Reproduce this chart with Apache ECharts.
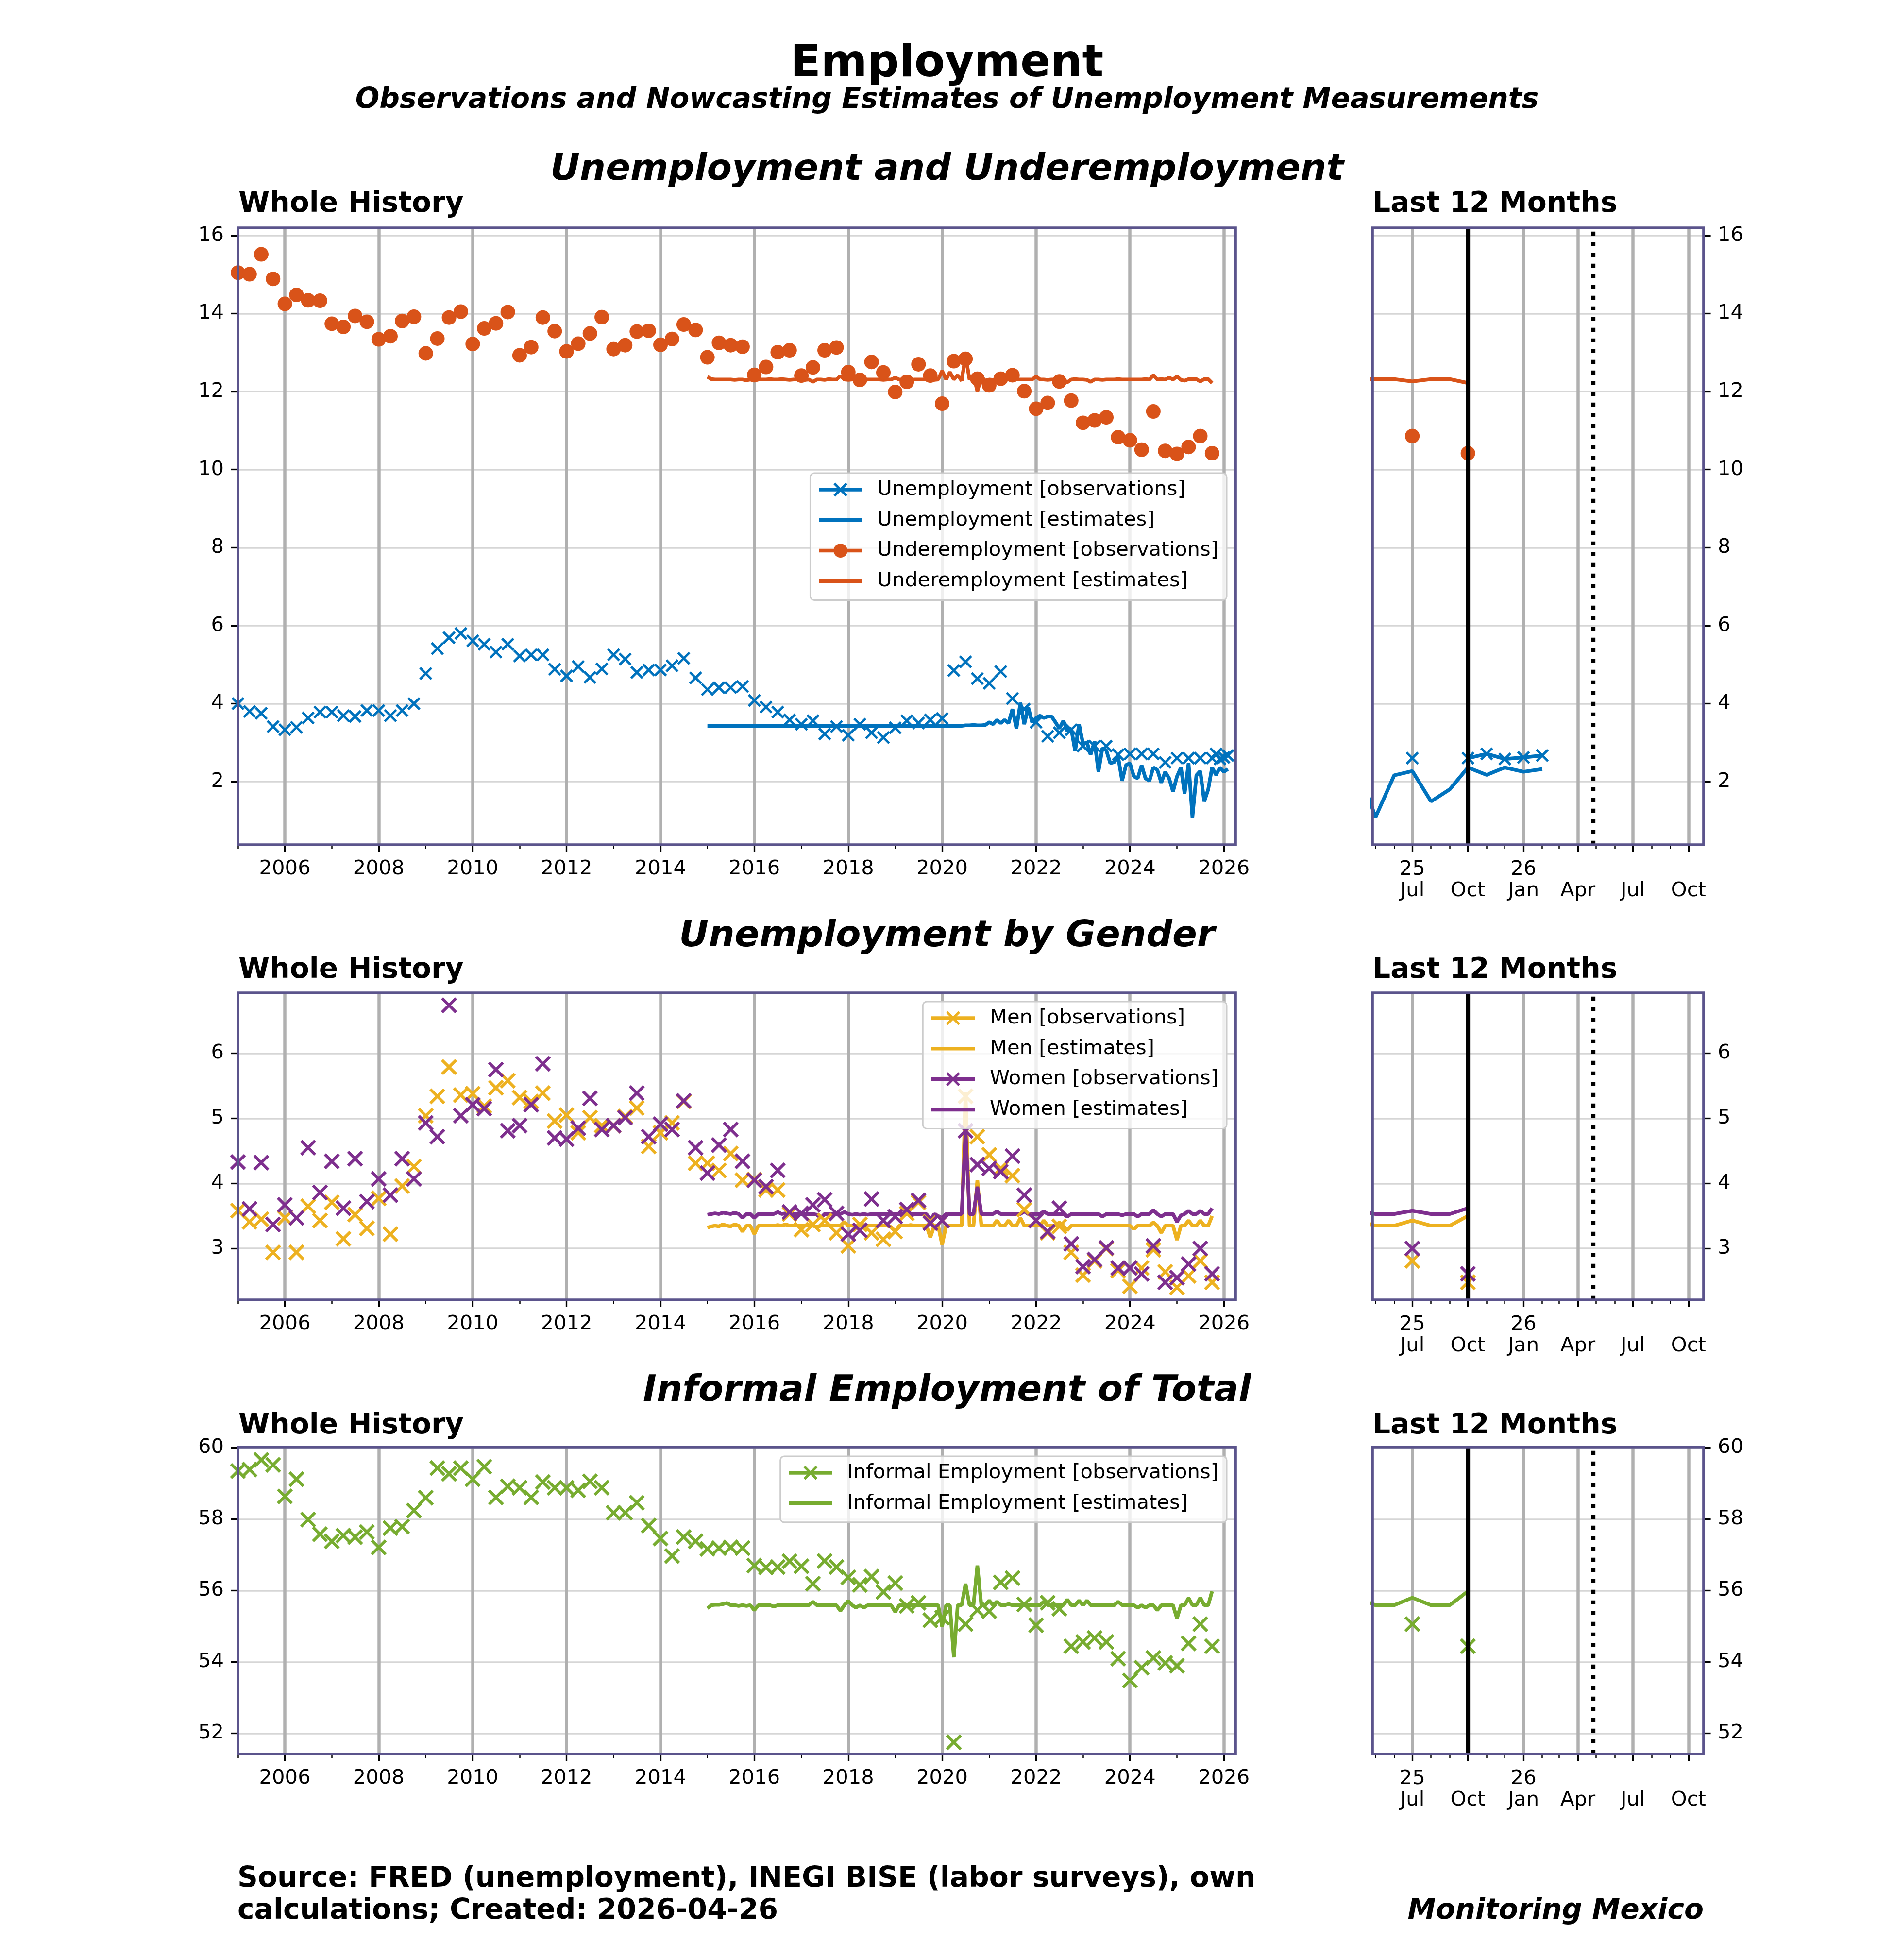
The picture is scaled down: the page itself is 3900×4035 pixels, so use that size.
<!DOCTYPE html>
<html><head><meta charset="utf-8">
<script src="https://cdn.jsdelivr.net/npm/echarts@6/dist/echarts.min.js"></script>
<style>html,body{margin:0;padding:0;background:#fff}#c{width:3900px;height:4035px}</style>
</head><body><div id="c"></div>
<script>
// ---------------- DATA ----------------
// Quarterly observations start Jan 2005 (Jan, Apr, Jul, Oct)
const unempObs = [
 4.00,3.80,3.75,3.41, 3.33,3.39,3.63,3.78, 3.78,3.69,3.67,3.82, 3.82,3.69,3.82,4.00,
 4.77,5.41,5.69,5.80, 5.61,5.52,5.32,5.52, 5.22,5.25,5.25,4.88, 4.71,4.95,4.67,4.89,
 5.25,5.14,4.80,4.86, 4.86,4.97,5.16,4.66, 4.36,4.41,4.41,4.44, 4.08,3.91,3.78,3.58,
 3.47,3.56,3.22,3.41, 3.19,3.47,3.25,3.13, 3.38,3.56,3.50,3.58, 3.62,4.85,5.07,4.64,
 4.52,4.82,4.13,3.86, 3.52,3.16,3.25,3.33, 2.91,2.91,2.91,2.69, 2.71,2.71,2.71,2.49,
 2.60,2.60,2.60];
// Monthly observations Oct 2025 .. Feb 2026
const unempObsTail = [2.60,2.71,2.58,2.62,2.67];
const underObs = [
 15.05,15.01,15.52,14.89, 14.25,14.48,14.34,14.33, 13.74,13.66,13.94,13.79, 13.34,13.42,13.81,13.92,
 12.98,13.36,13.90,14.05, 13.22,13.62,13.75,14.04, 12.93,13.14,13.90,13.55, 13.03,13.23,13.49,13.91,
 13.09,13.19,13.54,13.56, 13.20,13.35,13.72,13.58, 12.88,13.25,13.19,13.15, 12.43,12.63,13.01,13.06,
 12.41,12.62,13.06,13.13, 12.50,12.30,12.76,12.49, 11.99,12.25,12.70,12.41, 11.69,12.78,12.84,12.33,
 12.16,12.33,12.42,12.01, 11.56,11.71,12.26,11.77, 11.20,11.26,11.34,10.83, 10.75,10.51,11.49,10.48,
 10.40,10.58,10.86,10.42];
// Monthly estimates start Jan 2015
const unempEst = [
 3.43,3.43,3.43,3.43,3.43,3.43,3.43,3.43,3.43,3.43,3.43,3.43,
 3.43,3.43,3.43,3.43,3.43,3.43,3.43,3.43,3.43,3.43,3.43,3.43,
 3.43,3.43,3.43,3.43,3.43,3.43,3.43,3.43,3.43,3.43,3.43,3.43,
 3.43,3.43,3.43,3.43,3.43,3.43,3.43,3.43,3.43,3.43,3.43,3.43,
 3.43,3.43,3.43,3.43,3.43,3.43,3.43,3.43,3.43,3.43,3.43,3.43,
 3.43,3.43,3.43,3.43,3.43,3.43,3.44,3.44,3.45,3.44,3.44,3.45,
 3.52,3.47,3.58,3.50,3.58,3.50,3.86,3.36,4.02,3.47,3.90,3.52,
 3.63,3.69,3.63,3.67,3.67,3.52,3.36,3.56,3.30,3.36,2.78,3.47,
 2.97,3.00,2.69,3.03,2.25,2.86,2.80,2.47,2.50,2.64,2.02,2.42,
 2.47,2.13,2.08,2.42,2.08,2.02,2.36,2.30,1.97,2.25,2.08,1.74,
 2.13,2.36,1.69,2.47,1.08,2.16,2.27,1.49,1.80,2.36,2.17,2.36,
 2.25,2.32];
const underEst = [
 12.38,12.32,12.31,12.31,12.31,12.31,12.31,12.30,12.31,12.31,12.29,12.31,
 12.28,12.31,12.31,12.31,12.32,12.31,12.31,12.32,12.31,12.30,12.31,12.31,
 12.31,12.30,12.31,12.25,12.31,12.31,12.30,12.32,12.31,12.31,12.40,12.31,
 12.30,12.31,12.31,12.31,12.30,12.31,12.31,12.31,12.31,12.30,12.31,12.31,
 12.36,12.31,12.31,12.31,12.30,12.31,12.31,12.31,12.31,12.31,12.30,12.31,
 12.53,12.31,12.50,12.31,12.42,12.28,12.92,12.31,12.42,12.01,12.38,12.28,
 12.31,12.30,12.31,12.31,12.31,12.31,12.31,12.31,12.31,12.31,12.31,12.31,
 12.39,12.31,12.31,12.30,12.31,12.31,12.31,12.31,12.24,12.31,12.32,12.31,
 12.31,12.30,12.25,12.31,12.31,12.30,12.31,12.31,12.31,12.32,12.31,12.31,
 12.31,12.31,12.31,12.31,12.32,12.31,12.42,12.31,12.32,12.31,12.36,12.31,
 12.39,12.30,12.28,12.32,12.32,12.32,12.26,12.32,12.32,12.22];
const menObs = [
 3.58,3.41,3.45,2.94, 3.47,2.94,3.65,3.43, 3.71,3.15,3.52,3.31, 3.77,3.22,3.96,4.26,
 5.04,5.34,5.79,5.36, 5.38,5.19,5.47,5.58, 5.32,5.26,5.39,4.96, 5.05,4.78,5.01,4.89,
 4.89,5.03,5.16,4.57, 4.78,4.93,5.26,4.31, 4.31,4.20,4.46,4.05, 4.06,3.90,3.90,3.53,
 3.29,3.37,3.43,3.24, 3.04,3.37,3.24,3.14, 3.26,3.54,3.71,3.41, 3.43,null,5.34,4.72,
 4.44,4.23,4.12,3.60, 3.43,3.24,3.34,2.94, 2.59,2.81,3.00,2.66, 2.42,2.70,2.98,2.64,
 2.40,2.58,2.81,2.48];
const womenObs = [
 4.33,3.61,4.32,3.37, 3.67,3.47,4.55,3.86, 4.34,3.62,4.38,3.72, 4.07,3.82,4.38,4.07,
 4.93,4.72,6.74,5.04, 5.21,5.15,5.75,4.81, 4.89,5.21,5.84,4.70, 4.68,4.85,5.31,4.83,
 4.89,5.01,5.39,4.72, 4.91,4.83,5.27,4.55, 4.16,4.59,4.83,4.34, 4.05,3.95,4.20,3.56,
 3.54,3.67,3.75,3.54, 3.22,3.28,3.76,3.43, 3.49,3.60,3.74,3.39, 3.43,null,4.81,4.29,
 4.23,4.18,4.42,3.82, 3.43,3.26,3.62,3.07, 2.72,2.83,3.01,2.70, 2.70,2.61,3.04,2.48,
 2.55,2.76,3.00,2.61];
const menEst = [
 3.32,3.34,3.35,3.34,3.37,3.35,3.34,3.37,3.35,3.26,3.35,3.35,
 3.22,3.35,3.35,3.35,3.35,3.35,3.36,3.35,3.37,3.35,3.35,3.35,
 3.35,3.35,3.36,3.35,3.33,3.35,3.35,3.36,3.35,3.35,3.35,3.41,
 3.35,3.35,3.35,3.35,3.36,3.35,3.35,3.35,3.35,3.35,3.35,3.33,
 3.26,3.35,3.35,3.35,3.36,3.35,3.35,3.35,3.35,3.17,3.35,3.35,
 3.06,3.35,3.35,3.35,3.35,3.35,5.40,3.35,3.35,4.05,3.35,3.35,
 3.35,3.35,3.43,3.35,3.35,3.43,3.35,3.35,3.47,3.35,3.35,3.35,
 3.35,3.35,3.43,3.35,3.35,3.35,3.40,3.35,3.28,3.35,3.35,3.35,
 3.35,3.35,3.35,3.35,3.35,3.35,3.35,3.35,3.35,3.35,3.35,3.35,
 3.35,3.30,3.35,3.35,3.35,3.35,3.40,3.35,3.24,3.35,3.35,3.35,
 3.13,3.35,3.35,3.43,3.35,3.35,3.43,3.35,3.35,3.50];
const womenEst = [
 3.52,3.53,3.54,3.53,3.55,3.54,3.53,3.55,3.53,3.47,3.53,3.53,
 3.47,3.53,3.53,3.53,3.53,3.53,3.56,3.53,3.54,3.53,3.53,3.53,
 3.53,3.53,3.53,3.53,3.52,3.47,3.53,3.53,3.53,3.53,3.53,3.56,
 3.53,3.52,3.53,3.52,3.53,3.52,3.53,3.53,3.53,3.53,3.53,3.53,
 3.53,3.53,3.53,3.53,3.53,3.53,3.53,3.53,3.53,3.44,3.53,3.50,
 3.47,3.53,3.53,3.53,3.53,3.53,4.81,3.53,3.53,3.95,3.53,3.53,
 3.53,3.53,3.57,3.53,3.53,3.53,3.53,3.53,3.53,3.57,3.53,3.53,
 3.53,3.53,3.57,3.53,3.53,3.53,3.53,3.53,3.49,3.53,3.53,3.53,
 3.53,3.53,3.53,3.53,3.53,3.49,3.53,3.53,3.53,3.53,3.51,3.53,
 3.53,3.53,3.49,3.53,3.53,3.53,3.59,3.53,3.49,3.53,3.53,3.53,
 3.41,3.51,3.53,3.58,3.53,3.53,3.58,3.53,3.53,3.62];
const informalObs = [
 59.35,59.39,59.66,59.52, 58.64,59.12,57.99,57.58, 57.38,57.54,57.50,57.64, 57.21,57.75,57.79,58.24,
 58.60,59.43,59.27,59.43, 59.12,59.47,58.61,58.92, 58.88,58.61,59.04,58.88, 58.88,58.81,59.06,58.88,
 58.18,58.18,58.46,57.82, 57.46,56.97,57.50,57.38, 57.17,57.19,57.21,57.19, 56.70,56.65,56.66,56.82,
 56.68,56.19,56.83,56.66, 56.37,56.16,56.39,55.96, 56.21,55.57,55.66,55.17, 55.24,51.75,55.06,55.45,
 55.42,56.23,56.35,55.61, 55.03,55.66,55.49,54.44, 54.56,54.67,54.56,54.09, 53.48,53.84,54.11,53.97,
 53.89,54.52,55.06,54.44];
const informalEst = [
 55.50,55.59,55.60,55.60,55.62,55.65,55.59,55.59,55.57,55.59,55.57,55.59,
 55.45,55.59,55.59,55.59,55.59,55.55,55.59,55.59,55.59,55.59,55.59,55.59,
 55.59,55.59,55.59,55.69,55.59,55.59,55.59,55.59,55.59,55.59,55.43,55.59,
 55.71,55.59,55.52,55.59,55.52,55.59,55.59,55.59,55.59,55.59,55.59,55.59,
 55.40,55.59,55.59,55.59,55.59,55.59,55.59,55.59,55.59,55.59,55.59,55.59,
 54.99,55.59,55.59,54.13,55.59,55.59,56.19,55.59,55.59,56.70,55.59,55.59,
 55.72,55.59,55.69,55.59,55.59,55.62,55.59,55.59,55.59,55.59,55.59,55.59,
 55.59,55.59,55.69,55.59,55.59,55.59,55.59,55.59,55.75,55.59,55.59,55.72,
 55.59,55.72,55.59,55.59,55.59,55.59,55.59,55.59,55.59,55.69,55.59,55.59,
 55.59,55.59,55.52,55.59,55.52,55.59,55.59,55.45,55.59,55.59,55.59,55.59,
 55.22,55.59,55.59,55.79,55.59,55.59,55.80,55.59,55.59,55.98];

// Tick labels
const mainMajorYears = [2006,2008,2010,2012,2014,2016,2018,2020,2022,2024,2026];
const mainMinorYears = [2005,2007,2009,2011,2013,2015,2017,2019,2021,2023,2025];
const miniMajorMonths = [[2025,7],[2025,10],[2026,1],[2026,4],[2026,7],[2026,10]];
const miniMajorLabels = ['25\nJul','\nOct','26\nJan','\nApr','\nJul','\nOct'];
const yTicksTop = [2,4,6,8,10,12,14,16];
const yTicksMid = [3,4,5,6];
const yTicksBot = [52,54,56,58,60];

// ---------------- BUILD ----------------
const T = (y, m, d) => Date.UTC(y, m - 1, d || 1);
function quarterly(y, m, vals) {
  const out = [];
  vals.forEach((v, i) => { out.push([T(y, m + 3 * i), v]); out.push([T(y, m + 3 * i + 1), null]); });
  return out;
}
function monthly(y, m, vals) { return vals.map((v, i) => [T(y, m + i), v]); }

const unempObsData = quarterly(2005, 1, unempObs).concat(monthly(2025, 10, unempObsTail));
const underObsData = quarterly(2005, 1, underObs);
const unempEstData = monthly(2015, 1, unempEst);
const underEstData = monthly(2015, 1, underEst);
const menObsData = quarterly(2005, 1, menObs);
const womenObsData = quarterly(2005, 1, womenObs);
const menEstData = monthly(2015, 1, menEst);
const womenEstData = monthly(2015, 1, womenEst);
const infObsData = quarterly(2005, 1, informalObs);
const infEstData = monthly(2015, 1, informalEst);

const FONT = "'DejaVu Sans', sans-serif";
const C = { blue: '#0072BD', orange: '#D95319', yellow: '#EDB120', purple: '#7E2F8E', green: '#77AC30' };
const SPINE = '#5b548c';
const X_PATH = 'path://M0,13L13,0L50,37L87,0L100,13L63,50L100,87L87,100L50,63L13,100L0,87L37,50Z';
const LINE_ICON = 'path://M0,0L89,0L89,7.5L0,7.5Z';
const TICKFS = 41.7;
const LW = 7.5;

const mainMin = T(2005, 1, 1), mainMax = T(2026, 4, 1);
const miniMin = T(2025, 4, 26), miniMax = T(2026, 10, 26);
const lastObs = T(2025, 10, 1), today = T(2026, 4, 26);

const panels = [
  { top: 469, bottom: 1739, ymin: 0.38, ymax: 16.2, yt: yTicksTop },
  { top: 2044, bottom: 2676, ymin: 2.21, ymax: 6.93, yt: yTicksMid },
  { top: 2979, bottom: 3611, ymin: 51.42, ymax: 60.02, yt: yTicksBot }
];
const MAINL = 490, MAINR = 2544, MINIL = 2826, MINIR = 3508;

const grids = [], xAxes = [], yAxes = [], series = [], graphics = [];
const tickStyle = { color: '#000', width: 3.3 };
const labelStyle = { fontSize: TICKFS, color: '#000', fontFamily: FONT };

const miniMajorTs = miniMajorMonths.map(a => T(a[0], a[1]));
const miniMinorTs = [];
for (let i = 0; i < 18; i++) miniMinorTs.push(T(2025, 5 + i));
const mainMajorTs = mainMajorYears.map(y => T(y, 1));
const mainMinorTs = mainMinorYears.map(y => T(y, 1));

panels.forEach((p, k) => {
  const h = p.bottom - p.top;
  grids.push({ left: MAINL, top: p.top, width: MAINR - MAINL, height: h, containLabel: false });
  grids.push({ left: MINIL, top: p.top, width: MINIR - MINIL, height: h, containLabel: false });
  const gMain = 2 * k, gMini = 2 * k + 1;
  xAxes.push({ type: 'value', gridIndex: gMain, min: mainMin, max: mainMax, scale: true,
    axisLine: { show: false },
    axisTick: { show: true, customValues: mainMajorTs, length: 14.6, lineStyle: tickStyle },
    axisLabel: { show: true, customValues: mainMajorTs, margin: 29, ...labelStyle,
      formatter: v => String(new Date(v).getUTCFullYear()) },
    splitLine: { show: true, lineStyle: { color: '#b0b0b0', width: 6.5 } } });
  xAxes.push({ type: 'value', gridIndex: gMain, min: mainMin, max: mainMax, scale: true, position: 'bottom',
    axisLine: { show: false },
    axisTick: { show: true, customValues: mainMinorTs, length: 8.3, lineStyle: { color: '#000', width: 2.5 } },
    axisLabel: { show: false }, splitLine: { show: false } });
  xAxes.push({ type: 'value', gridIndex: gMini, min: miniMin, max: miniMax, scale: true,
    axisLine: { show: false },
    axisTick: { show: true, customValues: miniMajorTs, length: 14.6, lineStyle: tickStyle },
    axisLabel: { show: true, customValues: miniMajorTs, margin: 29, lineHeight: 44, ...labelStyle,
      formatter: v => { const i = miniMajorTs.indexOf(v); return i >= 0 ? miniMajorLabels[i] : ''; } },
    splitLine: { show: true, lineStyle: { color: '#b0b0b0', width: 6.5 } } });
  xAxes.push({ type: 'value', gridIndex: gMini, min: miniMin, max: miniMax, scale: true, position: 'bottom',
    axisLine: { show: false },
    axisTick: { show: true, customValues: miniMinorTs, length: 8.3, lineStyle: { color: '#000', width: 2.5 } },
    axisLabel: { show: false }, splitLine: { show: false } });
  [gMain, gMini].forEach((g, j) => {
    yAxes.push({ type: 'value', gridIndex: g, min: p.ymin, max: p.ymax, position: j === 0 ? 'left' : 'right',
      axisLine: { show: false },
      axisTick: { show: true, customValues: p.yt, length: 14.6, lineStyle: tickStyle },
      axisLabel: { show: true, customValues: p.yt, margin: 29, ...labelStyle },
      splitLine: { show: true, lineStyle: { color: '#d6d6d6', width: 3.5 } } });
  });
  [[MAINL, MAINR], [MINIL, MINIR]].forEach(lr => {
    graphics.push({ type: 'rect', z: 100, silent: true,
      shape: { x: lr[0], y: p.top, width: lr[1] - lr[0], height: h },
      style: { fill: 'none', stroke: SPINE, lineWidth: 5.7 } });
  });
});

function obs(name, data, color, symbol, size, panel, mini) {
  return { type: 'line', name, data, xAxisIndex: 4 * panel + (mini ? 2 : 0), yAxisIndex: 2 * panel + (mini ? 1 : 0),
    connectNulls: false, showSymbol: true, showAllSymbol: true, symbol, symbolSize: size, symbolKeepAspect: true,
    lineStyle: { color, width: LW }, itemStyle: { color, borderWidth: 0 }, z: 3, animation: false,
    emphasis: { disabled: true }, clip: true };
}
function est(name, data, color, panel, mini) {
  return { type: 'line', name, data, xAxisIndex: 4 * panel + (mini ? 2 : 0), yAxisIndex: 2 * panel + (mini ? 1 : 0),
    showSymbol: false, symbol: 'none', lineStyle: { color, width: LW }, itemStyle: { color }, z: 3,
    animation: false, emphasis: { disabled: true }, clip: true };
}
function vlines(panel) {
  return { type: 'line', name: '_v' + panel, data: [[lastObs, null]], xAxisIndex: 4 * panel + 2, yAxisIndex: 2 * panel + 1,
    symbol: 'none', z: 2, silent: true, animation: false,
    markLine: { silent: true, symbol: ['none', 'none'], label: { show: false }, animation: false,
      data: [ { xAxis: lastObs, lineStyle: { color: '#000', width: 8.3, type: 'solid' } },
              { xAxis: today, lineStyle: { color: '#000', width: 8.3, type: [8.3, 13.7] } } ] } };
}
[false, true].forEach(mini => {
  series.push(obs('Unemployment [observations]', unempObsData, C.blue, X_PATH, 27, 0, mini));
  series.push(est('Unemployment [estimates]', unempEstData, C.blue, 0, mini));
  series.push(obs('Underemployment [observations]', underObsData, C.orange, 'circle', 30, 0, mini));
  series.push(est('Underemployment [estimates]', underEstData, C.orange, 0, mini));
  series.push(obs('Men [observations]', menObsData, C.yellow, X_PATH, 33, 1, mini));
  series.push(est('Men [estimates]', menEstData, C.yellow, 1, mini));
  series.push(obs('Women [observations]', womenObsData, C.purple, X_PATH, 33, 1, mini));
  series.push(est('Women [estimates]', womenEstData, C.purple, 1, mini));
  series.push(obs('Informal Employment [observations]', infObsData, C.green, X_PATH, 33, 2, mini));
  series.push(est('Informal Employment [estimates]', infEstData, C.green, 2, mini));
});
[0, 1, 2].forEach(p => series.push(vlines(p)));

function legend(top, names) {
  return { orient: 'vertical', align: 'left', right: 3900 - 2526, top, itemWidth: 89, itemHeight: 36, itemGap: 20.8,
    padding: [13, 17, 18, 14], backgroundColor: 'rgba(255,255,255,0.8)', borderColor: '#cccccc', borderWidth: 3,
    borderRadius: 8, selectedMode: false, z: 20,
    lineStyle: { width: LW },
    textStyle: { fontSize: TICKFS, color: '#000', fontFamily: FONT, padding: [0, 0, 0, 26] },
    data: names.map(n => n.indexOf('[estimates]') >= 0 ? { name: n, icon: LINE_ICON } : n) };
}
const legends = [
  legend(974, ['Unemployment [observations]', 'Unemployment [estimates]', 'Underemployment [observations]', 'Underemployment [estimates]']),
  legend(2062, ['Men [observations]', 'Men [estimates]', 'Women [observations]', 'Women [estimates]']),
  legend(2998, ['Informal Employment [observations]', 'Informal Employment [estimates]'])
];

function txt(text, x, y, fs, opts) {
  return { type: 'text', x, y, z: 100, silent: true,
    style: Object.assign({ text, fontSize: fs, fontFamily: FONT, fontWeight: 'bold', fill: '#000',
      align: 'left', verticalAlign: 'middle' }, opts || {}) };
}
graphics.push(txt('Employment', 1950, 133, 91.7, { align: 'center' }));
graphics.push(txt('Observations and Nowcasting Estimates of Unemployment Measurements', 1950, 207, 58.3, { align: 'center', fontStyle: 'italic' }));
graphics.push(txt('Unemployment and Underemployment', 1950, 351, 75, { align: 'center', fontStyle: 'italic' }));
graphics.push(txt('Unemployment by Gender', 1950, 1929, 75, { align: 'center', fontStyle: 'italic' }));
graphics.push(txt('Informal Employment of Total', 1950, 2865, 75, { align: 'center', fontStyle: 'italic' }));
[421, 1998, 2936].forEach(y => {
  graphics.push(txt('Whole History', 491, y, 58.3));
  graphics.push(txt('Last 12 Months', 2826, y, 58.3));
});
graphics.push(txt('Source: FRED (unemployment), INEGI BISE (labor surveys), own', 489, 3869, 58.3));
graphics.push(txt('calculations; Created: 2026-04-26', 489, 3935, 58.3));
graphics.push(txt('Monitoring Mexico', 3508, 3935, 58.3, { align: 'right', fontStyle: 'italic' }));

const chart = echarts.init(document.getElementById('c'), null, { renderer: 'canvas', devicePixelRatio: 1 });
chart.setOption({
  animation: false,
  backgroundColor: '#ffffff',
  textStyle: { fontFamily: FONT },
  grid: grids, xAxis: xAxes, yAxis: yAxes, series, legend: legends, graphic: graphics
});
</script></body></html>
